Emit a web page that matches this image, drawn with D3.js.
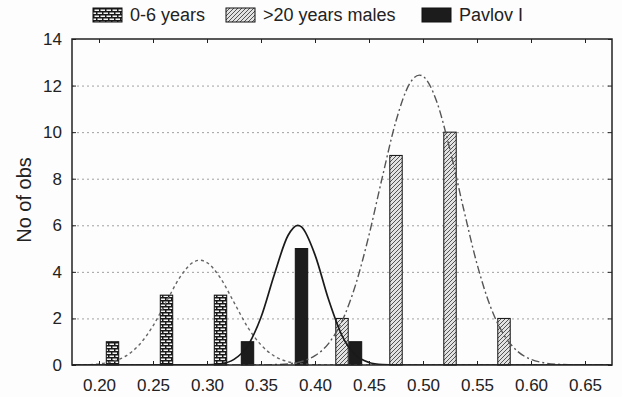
<!DOCTYPE html>
<html>
<head>
<meta charset="utf-8">
<script src="https://cdn.jsdelivr.net/npm/d3@7/dist/d3.min.js"></script>
<style>
  html, body { margin: 0; padding: 0; background: #fdfdfd; }
  svg { display: block; font-family: "Liberation Sans", Arial, sans-serif; }
</style>
</head>
<body>
<div id="chart"></div>
<script>
// bar positions (bin centre of each series) and counts
const youngX = [0.2125, 0.2625, 0.3125];
const youngCounts = [1, 3, 3];
const maleX = [0.425, 0.475, 0.525, 0.575];
const maleCounts = [2, 9, 10, 2];
const pavlovX = [0.3375, 0.3875, 0.4375];
const pavlovCounts = [1, 5, 1];

// fitted curves
const youngFitX = [0.175, 0.1875, 0.2, 0.2125, 0.225, 0.2375, 0.25, 0.2625, 0.275, 0.2875, 0.2935, 0.3, 0.3125, 0.325, 0.3375, 0.35, 0.3625, 0.375, 0.3875, 0.4, 0.4125, 0.675];
const youngFitY = [0.00, 0.01, 0.05, 0.15, 0.39, 0.88, 1.68, 2.73, 3.77, 4.42, 4.50, 4.40, 3.73, 2.69, 1.64, 0.86, 0.38, 0.14, 0.05, 0.01, 0.00, 0.00];
const maleFitX = [0.175, 0.35, 0.3625, 0.375, 0.3875, 0.4, 0.4125, 0.425, 0.4375, 0.45, 0.4625, 0.475, 0.4875, 0.4966, 0.5, 0.5125, 0.525, 0.5375, 0.55, 0.5625, 0.575, 0.5875, 0.6, 0.6125, 0.625, 0.6375, 0.65, 0.675];
const maleFitY = [0.00, 0.00, 0.02, 0.05, 0.15, 0.40, 0.92, 1.88, 3.43, 5.58, 8.10, 10.48, 12.07, 12.45, 12.40, 11.34, 9.24, 6.72, 4.34, 2.50, 1.29, 0.59, 0.24, 0.09, 0.03, 0.01, 0.00, 0.00];
const pavlovFitX = [0.175, 0.3, 0.3125, 0.325, 0.3375, 0.35, 0.3625, 0.375, 0.384, 0.3875, 0.4, 0.4125, 0.425, 0.4375, 0.45, 0.4625, 0.475, 0.675];
const pavlovFitY = [0.00, 0.01, 0.05, 0.24, 0.81, 2.05, 3.91, 5.56, 6.00, 5.93, 4.73, 2.82, 1.26, 0.42, 0.11, 0.02, 0.00, 0.00];

const xTicks = [0.20, 0.25, 0.30, 0.35, 0.40, 0.45, 0.50, 0.55, 0.60, 0.65];
const yTicks = [0, 2, 4, 6, 8, 10, 12, 14];
const legendLabels = ["0-6 years", ">20 years males", "Pavlov I"];

const width = 622, height = 397;
const margin = { top: 39, right: 10, bottom: 32, left: 72 };
const barW = 0.0115;

const svg = d3.select("#chart").append("svg")
    .attr("width", width)
    .attr("height", height);

const defs = svg.append("defs");

const brick = defs.append("pattern")
    .attr("id", "brick")
    .attr("patternUnits", "userSpaceOnUse")
    .attr("width", 6).attr("height", 6);
brick.append("rect").attr("width", 6).attr("height", 6).attr("fill", "#f4f4f4");
brick.append("path")
    .attr("d", "M0,0.75H6M0,3.75H6M0.75,0V3M3.75,3V6")
    .attr("stroke", "#1a1a1a").attr("stroke-width", 1.5);

const hatch = defs.append("pattern")
    .attr("id", "hatch")
    .attr("patternUnits", "userSpaceOnUse")
    .attr("width", 4).attr("height", 4);
hatch.append("rect").attr("width", 4).attr("height", 4).attr("fill", "#e2e2e2");
hatch.append("path")
    .attr("d", "M-1,1l2,-2M0,4l4,-4M3,5l2,-2")
    .attr("stroke", "#444").attr("stroke-width", 0.9);

defs.append("clipPath").attr("id", "plot-clip")
    .append("rect")
    .attr("x", margin.left).attr("y", margin.top)
    .attr("width", width - margin.left - margin.right)
    .attr("height", height - margin.top - margin.bottom);

const x = d3.scaleLinear()
    .domain([0.175, 0.675])
    .range([margin.left, width - margin.right]);

const y = d3.scaleLinear()
    .domain([0, 14])
    .range([height - margin.bottom, margin.top]);

// grid
svg.append("g")
    .attr("class", "grid")
    .attr("transform", `translate(${margin.left},0)`)
    .call(d3.axisLeft(y).tickValues(yTicks.filter(d => d > 0 && d < 14))
        .tickSize(-(width - margin.left - margin.right)).tickFormat(""))
    .call(g => g.select(".domain").remove())
    .selectAll("line")
    .attr("stroke", "#a0a0a0")
    .attr("stroke-width", 1)
    .attr("stroke-dasharray", "2,3");

// bars
const series = [
    { xs: youngX, counts: youngCounts, fill: "url(#brick)" },
    { xs: maleX, counts: maleCounts, fill: "url(#hatch)" },
    { xs: pavlovX, counts: pavlovCounts, fill: "#1c1c1c" }
];

const barsG = svg.append("g").attr("class", "bars");
series.forEach(s => {
    barsG.selectAll(null)
        .data(s.xs.map((v, i) => ({ x: v, n: s.counts[i] })))
        .join("rect")
        .attr("x", d => x(d.x - barW / 2))
        .attr("y", d => y(d.n))
        .attr("width", d => x(d.x + barW / 2) - x(d.x - barW / 2))
        .attr("height", d => y(0) - y(d.n))
        .attr("fill", s.fill)
        .attr("stroke", "#111")
        .attr("stroke-width", 1);
});

// fitted curves
const line = d3.line()
    .x(d => x(d[0]))
    .y(d => y(d[1]))
    .curve(d3.curveMonotoneX);

const curves = [
    { xs: youngFitX, ys: youngFitY, stroke: "#666", width: 1.4, dash: "3,3" },
    { xs: maleFitX, ys: maleFitY, stroke: "#555", width: 1.4, dash: "8,3,2,3" },
    { xs: pavlovFitX, ys: pavlovFitY, stroke: "#1a1a1a", width: 1.7, dash: null }
];

const curvesG = svg.append("g").attr("clip-path", "url(#plot-clip)");
curves.forEach(c => {
    curvesG.append("path")
        .datum(c.xs.map((v, i) => [v, c.ys[i]]))
        .attr("fill", "none")
        .attr("stroke", c.stroke)
        .attr("stroke-width", c.width)
        .attr("stroke-dasharray", c.dash)
        .attr("d", line);
});

// axes with inward ticks on all four sides
const tickStyle = g => {
    g.select(".domain").remove();
    g.selectAll(".tick line").attr("stroke", "#222");
    g.selectAll(".tick text")
        .attr("fill", "#222")
        .style("font-size", "17px");
};

svg.append("g")
    .attr("transform", `translate(0,${height - margin.bottom})`)
    .call(d3.axisBottom(x).tickValues(xTicks).tickFormat(d3.format(".2f"))
        .tickSizeInner(-4).tickSizeOuter(0).tickPadding(14))
    .call(tickStyle);

svg.append("g")
    .attr("transform", `translate(0,${margin.top})`)
    .call(d3.axisTop(x).tickValues(xTicks).tickFormat("").tickSizeInner(-4).tickSizeOuter(0))
    .call(tickStyle);

svg.append("g")
    .attr("transform", `translate(${margin.left},0)`)
    .call(d3.axisLeft(y).tickValues(yTicks).tickSizeInner(-4).tickSizeOuter(0).tickPadding(10))
    .call(tickStyle);

svg.append("g")
    .attr("transform", `translate(${width - margin.right},0)`)
    .call(d3.axisRight(y).tickValues(yTicks).tickFormat("").tickSizeInner(-4).tickSizeOuter(0))
    .call(tickStyle);

// frame
svg.append("rect")
    .attr("x", margin.left)
    .attr("y", margin.top)
    .attr("width", width - margin.left - margin.right)
    .attr("height", height - margin.top - margin.bottom)
    .attr("fill", "none")
    .attr("stroke", "#222")
    .attr("stroke-width", 1.5);

// y label
svg.append("text")
    .attr("transform", "rotate(-90)")
    .attr("x", -200)
    .attr("y", 31)
    .attr("text-anchor", "middle")
    .attr("fill", "#222")
    .style("font-size", "20px")
    .text("No of obs");

// legend
const legendFills = ["url(#brick)", "url(#hatch)", "#1c1c1c"];
const legendX = [93, 226, 422];
const legend = svg.append("g").attr("class", "legend");
legendLabels.forEach((label, i) => {
    const g = legend.append("g").attr("transform", `translate(${legendX[i]},8)`);
    g.append("rect")
        .attr("width", 29).attr("height", 14)
        .attr("fill", legendFills[i])
        .attr("stroke", "#111");
    g.append("text")
        .attr("x", 37)
        .attr("y", 13)
        .attr("fill", "#222")
        .style("font-size", "18px")
        .text(label);
});
</script>
</body>
</html>
